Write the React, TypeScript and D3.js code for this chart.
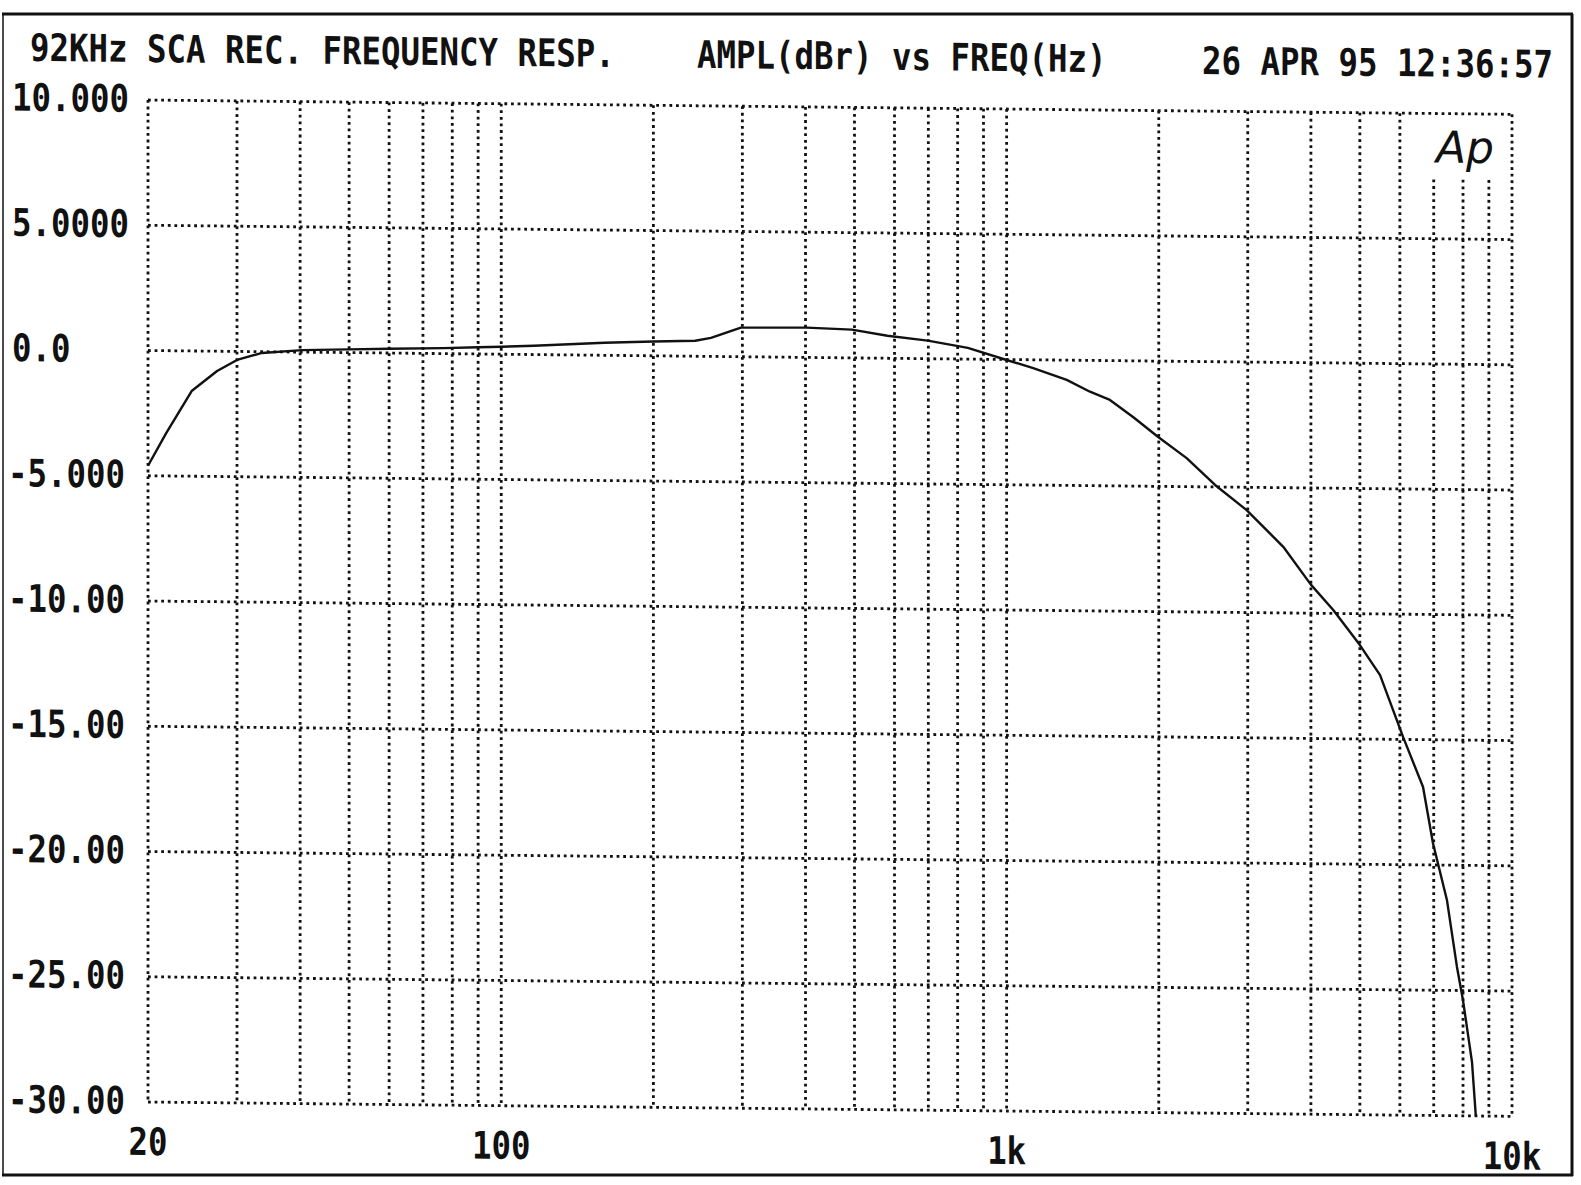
import React from "react";
import * as d3 from "d3";

// measured curve (Hz, dBr)
const freqHz = [20, 21.7, 24.4, 27.4, 30, 33.6, 40.4, 50, 60, 76.9, 90, 100, 116, 160, 200, 242, 260, 298, 402, 494, 581, 698, 838, 1000, 1129, 1315, 1462, 1601, 1779, 1992, 2271, 2585, 2985, 3527, 4000, 4429, 5001, 5482, 6087, 6668, 6975, 7434, 7782, 7998, 8333, 8480];
const amplDb = [-4.6, -3.31, -1.6, -0.79, -0.34, -0.05, 0.08, 0.13, 0.17, 0.22, 0.27, 0.3, 0.35, 0.5, 0.57, 0.62, 0.74, 1.16, 1.19, 1.13, 0.9, 0.72, 0.45, -0.02, -0.33, -0.79, -1.25, -1.57, -2.24, -3.02, -3.86, -4.92, -5.91, -7.36, -8.86, -9.86, -11.25, -12.44, -14.9, -16.89, -19.12, -21.39, -24.06, -25.38, -27.84, -30.0];

const yTicks = [10, 5, 0, -5, -10, -15, -20, -25, -30];
const yTickLabels = ["10.000", "5.0000", "0.0", "-5.000", "-10.00", "-15.00", "-20.00", "-25.00", "-30.00"];
const xTicks = [20, 100, 1000, 10000];
const xTickLabels = ["20", "100", "1k", "10k"];
const xGrid = [30, 40, 50, 60, 70, 80, 90, 100, 200, 300, 400, 500, 600, 700, 800, 900, 1000, 2000, 3000, 4000, 5000, 6000, 7000, 8000, 9000];
const shortGrid = [7000, 8000, 9000]; // start below the Ap logo

const titleLeft = "92KHz SCA REC. FREQUENCY RESP.";
const titleMid = "AMPL(dBr) vs FREQ(Hz)";
const titleRight = "26 APR 95 12:36:57";

const W = 1581;
const H = 1185;
const plot = { left: 148, right: 1512, top: 100, bottom: 1102 };
const skew = 0.0105; // the printout runs slightly downhill to the right
const pitch = 19.5; // character pitch of the printer font
const fontSize = 38;
const squeeze = pitch / (0.602 * fontSize);
const font = "'DejaVu Sans Mono', monospace";

const App: React.FC = () => {
  const x = d3.scaleLog().domain([20, 10000]).range([plot.left, plot.right]);
  const y = d3.scaleLinear().domain([-30, 10]).range([plot.bottom, plot.top]);

  const line = d3
    .line<number>()
    .x((_, i) => x(freqHz[i]))
    .y((d) => y(d));

  const dots = { stroke: "#111", strokeWidth: 2.8, strokeDasharray: "2.8 3.8", fill: "none" };

  const txt = (s: string, tx: number, ty: number, anchor: "start" | "middle" = "start") => (
    <text
      transform={`translate(${tx},${ty}) scale(${squeeze},1)`}
      textAnchor={anchor}
      fontFamily={font}
      fontWeight="bold"
      fontSize={fontSize}
      fill="#111"
    >
      {s}
    </text>
  );

  return (
    <svg width={W} height={H} style={{ position: "absolute", left: 0, top: 0, background: "#fff" }}>
      <rect x={0} y={0} width={W} height={H} fill="#fff" />
      {/* frame */}
      <line x1={2} x2={1573} y1={14} y2={14} stroke="#111" strokeWidth={3} />
      <line x1={1572} x2={1572} y1={14} y2={1176} stroke="#111" strokeWidth={3} />
      <line x1={2} x2={1573} y1={1175} y2={1175} stroke="#111" strokeWidth={3} />
      <line x1={3} x2={3} y1={14} y2={1176} stroke="#111" strokeWidth={1.5} />

      <g transform={`matrix(1,${skew},0,1,0,${-skew * plot.left})`}>
        {/* titles */}
        {txt(titleLeft, 30, 62)}
        {txt(titleMid, 697, 62)}
        {txt(titleRight, 1202, 63)}

        {/* grid */}
        {yTicks.map((t) => (
          <line key={"h" + t} x1={plot.left} x2={plot.right} y1={y(t)} y2={y(t)} style={dots} />
        ))}
        <line x1={plot.left} x2={plot.left} y1={plot.top} y2={plot.bottom} style={dots} />
        <line x1={plot.right} x2={plot.right} y1={plot.top} y2={plot.bottom} style={dots} />
        {xGrid.map((f) => (
          <line
            key={"v" + f}
            x1={x(f)}
            x2={x(f)}
            y1={shortGrid.includes(f) ? 166 : plot.top}
            y2={plot.bottom}
            style={dots}
          />
        ))}

        {/* tick labels */}
        {yTicks.map((t, i) => (
          <g key={"yl" + t}>{txt(yTickLabels[i], yTickLabels[i].startsWith("-") ? 8 : 12, y(t) + 12)}</g>
        ))}
        {xTicks.map((f, i) => (
          <g key={"xl" + f}>{txt(xTickLabels[i], x(f), 1155, "middle")}</g>
        ))}

        {/* Ap logo */}
        <text
          x={1436}
          y={149}
          fontFamily="'DejaVu Sans', sans-serif"
          fontStyle="italic"
          fontWeight={300}
          fontSize={44}
          fill="#111"
        >
          Ap
        </text>

        {/* curve */}
        <path d={line(amplDb) ?? ""} fill="none" stroke="#111" strokeWidth={2.4} strokeLinejoin="round" />
      </g>
    </svg>
  );
};

export default App;
